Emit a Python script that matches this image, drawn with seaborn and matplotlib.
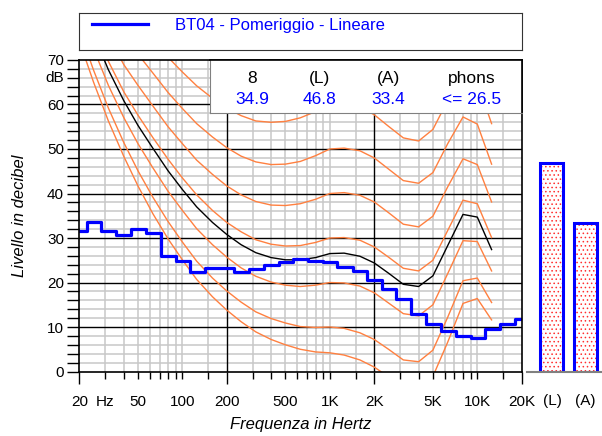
import pandas as pd
import matplotlib.pyplot as plt
import matplotlib.transforms as mtransforms
import seaborn as sns

plt.rcParams['font.family'] = ['Liberation Sans', 'DejaVu Sans']
plt.rcParams['hatch.linewidth'] = 0.6

# third-octave spectrum (dB, linear)
band_freqs = [20, 25, 31.5, 40, 50, 63, 80, 100, 125, 160, 200, 250, 315, 400,
              500, 630, 800, 1000, 1250, 1600, 2000, 2500, 3150, 4000, 5000,
              6300, 8000, 10000, 12500, 16000, 20000]
band_levels = [31.6, 33.5, 31.6, 30.7, 32.0, 31.2, 25.9, 24.8, 22.4, 23.3, 23.3,
               22.4, 23.1, 24.0, 24.6, 25.2, 24.8, 24.5, 23.5, 22.5, 20.5, 18.6,
               16.2, 13.0, 10.7, 9.2, 7.9, 7.6, 9.6, 10.7, 11.8]
series_label = "BT04 - Pomeriggio - Lineare"

# equal loudness contours
iso_freqs = [20, 25, 31.5, 40, 50, 63, 80, 100, 125, 160, 200, 250, 315, 400,
             500, 630, 800, 1000, 1250, 1600, 2000, 2500, 3150, 4000, 5000,
             6300, 8000, 10000, 12500]
phon_thr = [74.3, 65.0, 56.3, 48.4, 41.7, 35.5, 29.8, 25.1, 20.7, 16.8, 13.8, 11.2,
            8.9, 7.2, 6.0, 5.0, 4.4, 4.2, 3.7, 2.6, 1.0, -1.2, -3.6, -3.9, -1.1,
            6.6, 15.3, 16.4, 11.6]
phon_10 = [76.8, 67.7, 59.2, 51.5, 45.1, 39.2, 33.7, 29.1, 24.8, 21.0, 18.1, 15.6,
           13.4, 11.9, 10.9, 10.1, 9.9, 10.0, 9.7, 8.7, 7.2, 5.0, 2.6, 2.2, 4.8,
           12.2, 20.4, 21.0, 15.5]
phon_20 = [81.3, 72.5, 64.3, 57.1, 51.2, 45.8, 40.5, 36.2, 32.1, 28.5, 25.7, 23.3,
           21.4, 20.1, 19.4, 19.1, 19.4, 20.0, 19.9, 19.2, 17.7, 15.4, 13.0, 12.5,
           15.0, 22.0, 29.4, 29.2, 22.6]
phon_meas = [84.3, 75.8, 67.8, 60.9, 55.3, 50.2, 45.1, 40.9, 37.0, 33.5, 30.8, 28.5,
             26.7, 25.6, 25.1, 25.1, 25.6, 26.5, 26.6, 25.9, 24.4, 22.1, 19.6, 19.1,
             21.5, 28.3, 35.3, 34.7, 27.4]
phon_30 = [86.0, 77.6, 69.7, 62.9, 57.6, 52.6, 47.7, 43.5, 39.7, 36.2, 33.5, 31.4,
           29.6, 28.6, 28.2, 28.3, 29.0, 30.0, 30.1, 29.5, 28.0, 25.7, 23.2, 22.6,
           25.0, 31.7, 38.5, 37.7, 30.1]
phon_40 = [91.0, 82.9, 75.4, 69.0, 64.3, 59.7, 55.0, 51.2, 47.5, 44.3, 41.7, 39.7,
           38.2, 37.4, 37.3, 37.7, 38.7, 40.0, 40.2, 39.6, 38.1, 35.7, 33.1, 32.5,
           34.9, 41.5, 47.8, 46.5, 38.1]
phon_50 = [96.2, 88.5, 81.3, 75.4, 71.3, 67.1, 62.7, 59.1, 55.7, 52.7, 50.3, 48.4,
           47.1, 46.5, 46.6, 47.2, 48.5, 50.0, 50.2, 49.6, 48.0, 45.5, 42.9, 42.3,
           44.7, 51.2, 57.2, 55.6, 46.6]
phon_60 = [101.7, 94.4, 87.6, 82.1, 78.6, 74.8, 70.6, 67.3, 64.2, 61.4, 59.2, 57.5,
           56.3, 56.0, 56.2, 57.0, 58.4, 60.0, 60.1, 59.5, 57.7, 55.1, 52.5, 51.8,
           54.4, 60.9, 66.7, 65.0, 55.7]

bar_labels = ['(L)', '(A)']
bar_values = [46.8, 33.4]

table_heads = ['8', '(L)', '(A)', 'phons']
table_vals = ['34.9', '46.8', '33.4', '<= 26.5']

x_major = [20, 200, 2000, 20000]
x_major_labels = ['20', '200', '2K', '20K']
x_minor = [30, 40, 50, 60, 70, 80, 90, 100, 150, 300, 400, 500, 600, 700, 800,
           900, 1000, 1500, 3000, 4000, 5000, 6000, 7000, 8000, 9000, 10000, 15000]
x_minor_named = {30: 'Hz', 50: '50', 100: '100', 500: '500', 1000: '1K',
                 5000: '5K', 10000: '10K'}
y_major = [0, 10, 20, 30, 40, 50, 60, 70]

curves = {'soglia': phon_thr, '10': phon_10, '20': phon_20, '26.5': phon_meas,
          '30': phon_30, '40': phon_40, '50': phon_50, '60': phon_60}
rows = []
for name, vals in curves.items():
    for f, v in zip(iso_freqs, vals):
        rows.append((name, f, v))
contours = pd.DataFrame(rows, columns=['curva', 'freq', 'livello'])
palette = {k: '#ff8040' for k in curves}
palette['26.5'] = 'black'

fig = plt.figure(figsize=(6.02, 4.36), dpi=100)
ax = fig.add_axes([0.1317, 0.1479, 0.7349, 0.7145])
ax.set_xscale('log')

sns.lineplot(data=contours, x='freq', y='livello', hue='curva', palette=palette,
             legend=False, linewidth=1, estimator=None, sort=False, ax=ax)
sns.lineplot(x=band_freqs, y=band_levels, drawstyle='steps-mid', color='#0000ff',
             linewidth=2.3, estimator=None, label=series_label, ax=ax)
if ax.get_legend() is not None:
    ax.get_legend().remove()

ax.set_xlim(20, 20000)
ax.set_ylim(0, 70)
ax.set_axisbelow(True)

ax.set_xticks(x_major, labels=x_major_labels)
ax.set_xticks(x_minor, labels=[x_minor_named.get(f, '') for f in x_minor], minor=True)
ax.set_yticks(y_major)
ax.set_yticks([v for v in range(0, 71, 2) if v % 10], minor=True)

# light grid, black reference lines on top of it
ax.grid(which='minor', color='#c8c8c8', linewidth=1.1)
for f in x_major[1:-1]:
    ax.axvline(f, color='black', linewidth=1.0, zorder=1)
for v in y_major[1:-1]:
    ax.axhline(v, color='black', linewidth=1.0, zorder=1)

ax.tick_params(axis='x', which='major', length=8.6, width=1, pad=8.2, labelsize=11)
ax.tick_params(axis='x', which='minor', length=5, width=1, pad=11.8, labelsize=11)
ax.tick_params(axis='y', which='both', length=9, width=1, pad=2, labelsize=11)
for sp in ax.spines.values():
    sp.set_color('black')
    sp.set_linewidth(1.2)

trans = mtransforms.blended_transform_factory(ax.transAxes, ax.transData)
ax.text(-0.035, 66, 'dB', transform=trans, ha='right', va='center', fontsize=11)

ax.set_xlabel('Frequenza in Hertz', fontsize=12, style='italic')
ax.set_ylabel('Livello in decibel', fontsize=12, style='italic')
ax.xaxis.set_label_coords(0.5, -0.146)
ax.yaxis.set_label_coords(-0.118, 0.5)

# summary table, laid over the top right of the plot
tax = fig.add_axes([0.3488, 0.7408, 0.5178, 0.1216])
tax.set_xticks([])
tax.set_yticks([])
tax.set_facecolor('white')
for side in ['left', 'bottom']:
    tax.spines[side].set_color('#808080')
for side in ['top', 'right']:
    tax.spines[side].set_color('black')
    tax.spines[side].set_linewidth(1.2)
col_x = [0.1347, 0.3529, 0.5733, 0.8406]
for cx, head, val in zip(col_x, table_heads, table_vals):
    tax.text(cx, 0.66, head, transform=tax.transAxes, ha='center', va='center',
             fontsize=12.5, color='black')
    tax.text(cx, 0.25, val, transform=tax.transAxes, ha='center', va='center',
             fontsize=12.5, color='#0000ff')

# legend box
lax = fig.add_axes([0.1317, 0.8853, 0.7349, 0.0856])
lax.set_xticks([])
lax.set_yticks([])
for sp in lax.spines.values():
    sp.set_color('#333333')
handles, labels = ax.get_legend_handles_labels()
lax.legend(handles, labels, loc='center left', bbox_to_anchor=(0.0136, 0.66),
           frameon=False, handlelength=3.36, handletextpad=1.62, borderpad=0.4,
           borderaxespad=0, fontsize=12, labelcolor='#0000ff')

# (L) / (A) bars
bax = fig.add_axes([0.8754, 0.1479, 0.1246, 0.7145])
sns.barplot(x=bar_labels, y=bar_values, color='white', edgecolor='#ff3030', linewidth=0,
            hatch='....', width=0.69, saturation=1, errorbar=None, ax=bax)
sns.barplot(x=bar_labels, y=bar_values, fill=False, color='#0000ff', edgecolor='#0000ff',
            linewidth=2.2, width=0.69, saturation=1, errorbar=None, ax=bax)
bax.set_xlim(-0.75, 1.5)
bax.set_ylim(0, 70)
bax.set_xlabel('')
bax.set_ylabel('')
bax.set_yticks([])
for side in ['left', 'right', 'top']:
    bax.spines[side].set_visible(False)
bax.spines['bottom'].set_color('#808080')
bax.spines['bottom'].set_linewidth(1.5)
bax.tick_params(axis='x', length=0, pad=16.5, labelsize=11)

plt.savefig('out.png', dpi=100)
